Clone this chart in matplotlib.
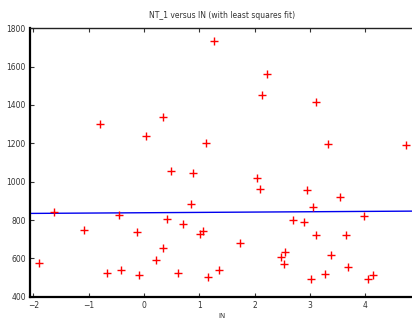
import numpy as np
import matplotlib
matplotlib.use("Agg")
import matplotlib.pyplot as plt

# data
in_vals = [1.27, 2.22, 2.14, 3.11, -0.79, 0.04, 0.34, 1.12, 0.49, 0.89, 0.85,
           3.33, 4.74, 2.04, 2.10, 2.94, 3.54, 3.05,
           -1.89, -1.63, -1.09, -0.66, -0.46, -0.42, -0.12, -0.085, 0.21, 0.34,
           0.42, 0.61, 0.70, 1.02, 1.06, 1.16,
           1.35, 1.73, 2.48, 2.55, 2.53, 2.69, 2.89, 3.11, 3.02, 3.27, 3.38,
           3.66, 3.69, 3.98, 4.04, 4.13]
nt1_vals = [1734, 1562, 1450, 1417, 1301, 1240, 1339, 1200, 1056, 1044, 884,
            1198, 1190, 1018, 960, 957, 922, 868,
            577, 840, 746, 524, 828, 539, 739, 512, 590, 654,
            804, 524, 781, 729, 744, 501,
            538, 682, 605, 635, 571, 800, 791, 723, 491, 518, 616,
            720, 553, 821, 491, 512]

x_ticks = [-2, -1, 0, 1, 2, 3, 4]
y_ticks = [400, 600, 800, 1000, 1200, 1400, 1600, 1800]

x = np.array(in_vals)
y = np.array(nt1_vals)
slope, intercept = np.polyfit(x, y, 1)

fig = plt.figure(figsize=(4.12, 3.2), dpi=100)
ax = fig.add_axes([30/412, 1-296.7/320, (414-30)/412, (296.7-28.3)/320])

xlim = (-2.06, 4.88)
ax.set_xlim(*xlim)
ax.set_ylim(400, 1800)

xs = np.array(xlim)
ax.plot(xs, slope*xs + intercept, color='#0000ee', lw=1.0, zorder=2)
ax.plot(x, y, linestyle='none', marker='+', color='#ff0000', markersize=5.5,
        markeredgewidth=1.0, zorder=3)

ax.set_xticks(x_ticks)
ax.set_yticks(y_ticks)
ax.tick_params(axis='both', direction='in', length=3, width=0.8,
               labelsize=5.5, labelcolor='#333333', color='#333333', pad=3)
ax.tick_params(axis='x', top=True)
for s in ['left', 'bottom']:
    ax.spines[s].set_linewidth(1.6)
    ax.spines[s].set_color('black')
ax.spines['top'].set_linewidth(1.0)
ax.spines['top'].set_color('#222222')
ax.spines['right'].set_visible(False)

fig.text(222/412, 1-15/320, 'NT_1 versus IN (with least squares fit)',
         ha='center', va='center', fontsize=5.5, color='#333333')
fig.text(222/412, 1-316/320, 'IN', ha='center', va='center', fontsize=5.0,
         color='#333333')

fig.savefig('out.png', dpi=100)
